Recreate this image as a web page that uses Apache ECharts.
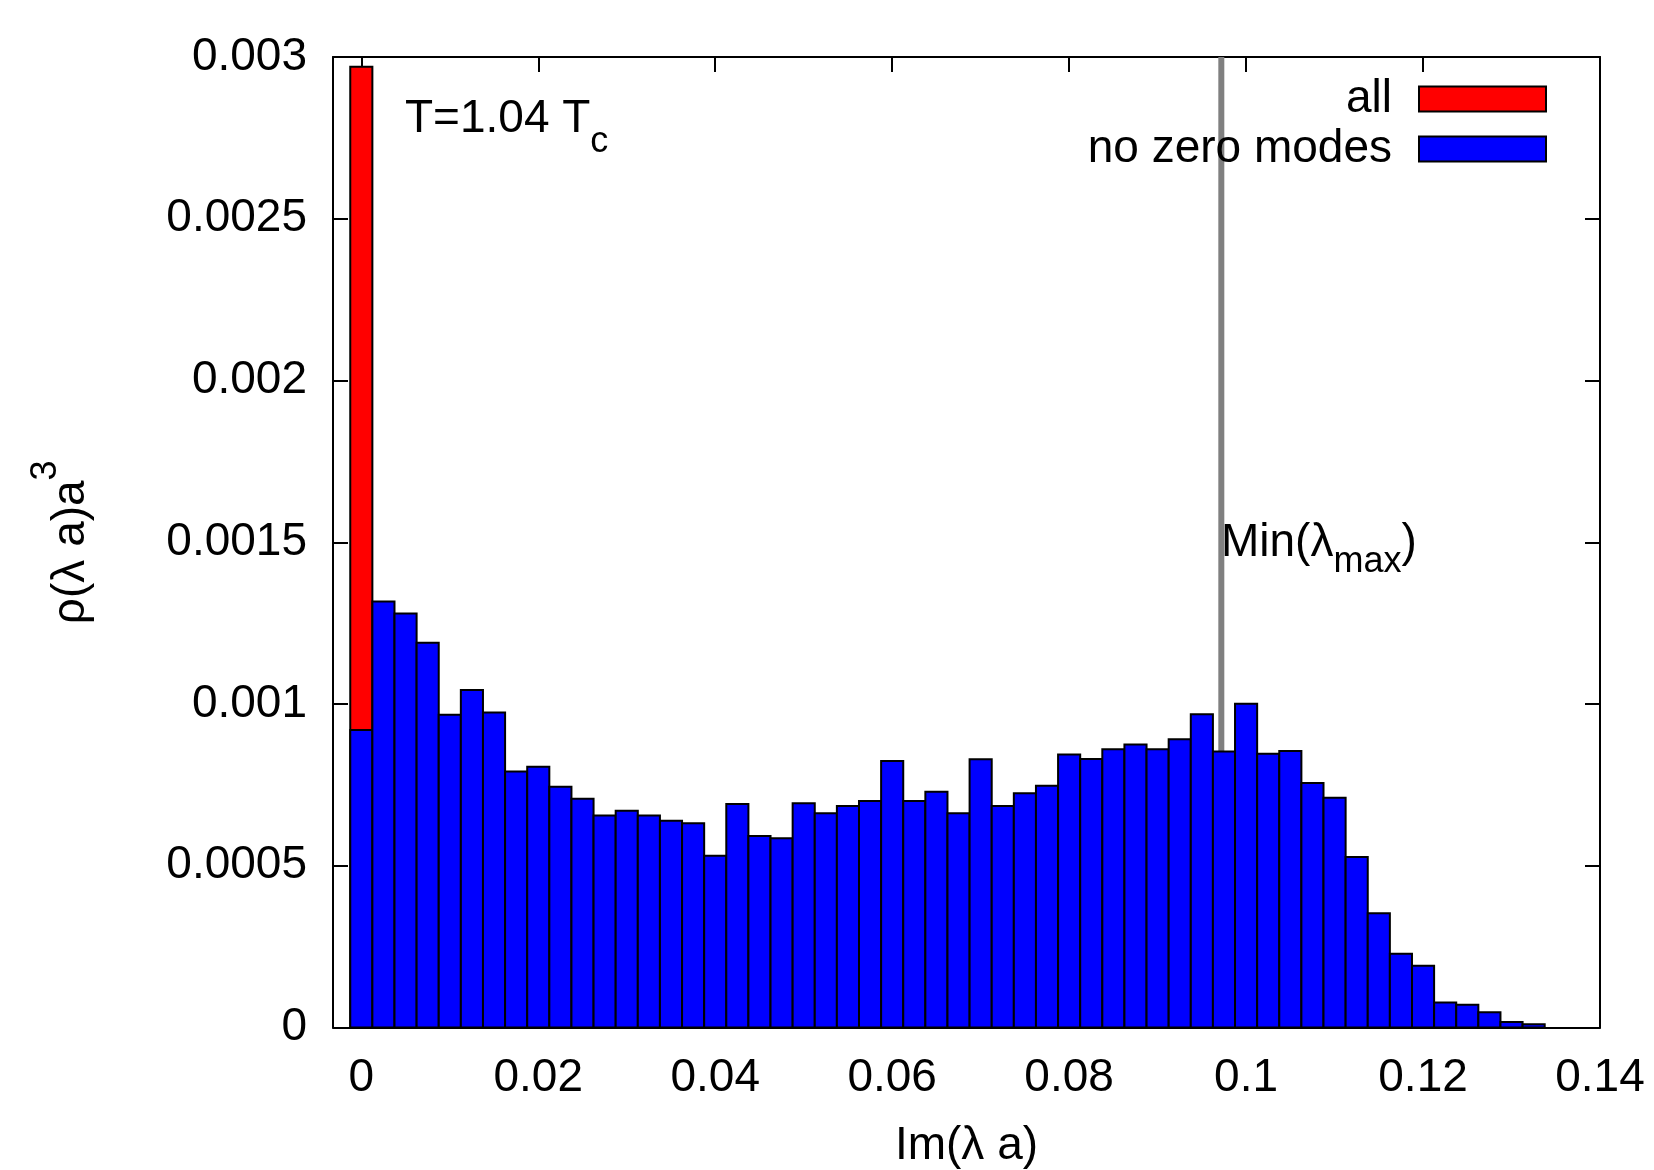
<!DOCTYPE html>
<html>
<head>
<meta charset="utf-8">
<script src="https://cdn.jsdelivr.net/npm/echarts@6/dist/echarts.min.js"></script>
<style>
  html, body { margin: 0; padding: 0; background: #fff; }
  #chart { width: 1654px; height: 1170px; }
</style>
</head>
<body>
<div id="chart"></div>
<script>
// histogram bins of Im(lambda a), width 0.0025
const binWidth = 0.0025;
const binCenters = [
  0, 0.0025, 0.005, 0.0075, 0.01, 0.0125, 0.015, 0.0175, 0.02, 0.0225,
  0.025, 0.0275, 0.03, 0.0325, 0.035, 0.0375, 0.04, 0.0425, 0.045, 0.0475,
  0.05, 0.0525, 0.055, 0.0575, 0.06, 0.0625, 0.065, 0.0675, 0.07, 0.0725,
  0.075, 0.0775, 0.08, 0.0825, 0.085, 0.0875, 0.09, 0.0925, 0.095, 0.0975,
  0.1, 0.1025, 0.105, 0.1075, 0.11, 0.1125, 0.115, 0.1175, 0.12, 0.1225,
  0.125, 0.1275, 0.13, 0.1325
];
// rho(lambda a) a^3 without zero modes
const noZeroModes = [
  0.000920, 0.001317, 0.001280, 0.001189, 0.000967, 0.001043, 0.000974, 0.000791, 0.000806, 0.000744,
  0.000707, 0.000655, 0.000670, 0.000655, 0.000639, 0.000631, 0.000531, 0.000691, 0.000592, 0.000585,
  0.000693, 0.000662, 0.000685, 0.000700, 0.000824, 0.000700, 0.000729, 0.000662, 0.000829, 0.000685,
  0.000724, 0.000747, 0.000844, 0.000830, 0.000860, 0.000875, 0.000860, 0.000891, 0.000968, 0.000853,
  0.001001, 0.000846, 0.000855, 0.000756, 0.000710, 0.000527, 0.000353, 0.000228, 0.000191, 0.000077,
  0.000070, 0.000047, 0.000017, 0.000010
];
// "all" only differs from the above in the first bin (zero modes)
const allBinCenters = [0];
const allModes = [0.00297];
const minLambdaMax = 0.0972;
const xTicks = [0, 0.02, 0.04, 0.06, 0.08, 0.1, 0.12, 0.14];
const yTicks = [0, 0.0005, 0.001, 0.0015, 0.002, 0.0025, 0.003];

const FONT = "'Liberation Sans', Arial, sans-serif";
const chart = echarts.init(document.getElementById("chart"));

function histRect(fill) {
  return function (params, api) {
    const x = api.value(0);
    const y = api.value(1);
    const p0 = api.coord([x - binWidth / 2, y]);
    const p1 = api.coord([x + binWidth / 2, 0]);
    return {
      type: "rect",
      shape: { x: p0[0], y: p0[1], width: p1[0] - p0[0], height: p1[1] - p0[1] },
      style: { fill: fill, stroke: "#000", lineWidth: 2 },
    };
  };
}

const axisLine = { show: true, onZero: false, lineStyle: { color: "#000", width: 2 } };
const tick = { show: true, inside: true, length: 15, lineStyle: { color: "#000", width: 2 } };
const label = { color: "#000", fontSize: 46, fontFamily: FONT };
const legendText = { color: "#000", fontSize: 46, fontFamily: FONT, padding: [0, 22, 0, 0] };

chart.setOption({
  animation: false,
  backgroundColor: "#fff",
  grid: { left: 333, right: 54, top: 57, bottom: 142.5, containLabel: false, outerBoundsMode: "none" },
  legend: [
    {
      data: [{ name: "all", icon: "rect", itemStyle: { color: "#ff0000", borderColor: "#000", borderWidth: 2 } }],
      right: 107, top: 76, padding: 0, align: "right",
      itemWidth: 127, itemHeight: 25, selectedMode: false,
      textStyle: legendText,
    },
    {
      data: [{ name: "no zero modes", icon: "rect", itemStyle: { color: "#0000ff", borderColor: "#000", borderWidth: 2 } }],
      right: 107, top: 126, padding: 0, align: "right",
      itemWidth: 127, itemHeight: 25, selectedMode: false,
      textStyle: legendText,
    },
  ],
  xAxis: [
    {
      type: "value", min: -0.0032, max: 0.14,
      name: "Im(λ a)", nameLocation: "middle", nameGap: 96,
      nameTextStyle: { color: "#000", fontSize: 46, fontFamily: FONT },
      axisLine: axisLine,
      axisTick: Object.assign({}, tick, { customValues: xTicks }),
      axisLabel: Object.assign({}, label, { margin: 28, customValues: xTicks }),
      splitLine: { show: false },
    },
    {
      type: "value", position: "top", min: -0.0032, max: 0.14,
      axisLine: axisLine,
      axisTick: Object.assign({}, tick, { customValues: xTicks }),
      axisLabel: { show: false },
      splitLine: { show: false },
    },
  ],
  yAxis: [
    {
      type: "value", min: 0, max: 0.003, interval: 0.0005,
      name: "{m|ρ(λ a)a}{s|3}", nameLocation: "middle", nameRotate: 90, nameGap: 259,
      nameTextStyle: {
        color: "#000", fontFamily: FONT,
        rich: {
          m: { fontSize: 46, lineHeight: 46, padding: [20, 0, 0, 0], verticalAlign: "top", fontFamily: FONT, color: "#000" },
          s: { fontSize: 36, lineHeight: 36, verticalAlign: "top", fontFamily: FONT, color: "#000" },
        },
      },
      axisLine: axisLine,
      axisTick: tick,
      axisLabel: Object.assign({}, label, { margin: 26, formatter: (v) => String(+v.toFixed(4)) }),
      splitLine: { show: false },
    },
    {
      type: "value", position: "right", min: 0, max: 0.003, interval: 0.0005,
      axisLine: axisLine,
      axisTick: tick,
      axisLabel: { show: false },
      splitLine: { show: false },
    },
  ],
  series: [
    {
      name: "Min(λmax)",
      type: "line",
      z: 1,
      silent: true,
      symbol: "none",
      data: [[minLambdaMax, yTicks[0]], [minLambdaMax, yTicks[yTicks.length - 1]]],
      lineStyle: { color: "#808080", width: 6 },
    },
    {
      name: "all",
      type: "custom",
      z: 2,
      itemStyle: { color: "#ff0000" },
      renderItem: histRect("#ff0000"),
      data: allBinCenters.map((x, i) => [x, allModes[i]]),
    },
    {
      name: "no zero modes",
      type: "custom",
      z: 3,
      itemStyle: { color: "#0000ff" },
      renderItem: histRect("#0000ff"),
      data: binCenters.map((x, i) => [x, noZeroModes[i]]),
    },
  ],
  graphic: [
    {
      type: "text", left: 405, top: 96, z: 10,
      style: {
        text: "{m|T=1.04 T}{s|c}",
        fontFamily: FONT,
        rich: {
          m: { fontSize: 46, lineHeight: 46, verticalAlign: "top", fontFamily: FONT, fill: "#000" },
          s: { fontSize: 36, lineHeight: 36, padding: [28, 0, 0, 0], verticalAlign: "top", fontFamily: FONT, fill: "#000" },
        },
      },
    },
    {
      type: "text", left: 1221, top: 520, z: 10,
      style: {
        text: "{m|Min(λ}{s|max}{m|)}",
        fontFamily: FONT,
        rich: {
          m: { fontSize: 46, lineHeight: 46, verticalAlign: "top", fontFamily: FONT, fill: "#000" },
          s: { fontSize: 36, lineHeight: 36, padding: [24, 0, 0, 0], verticalAlign: "top", fontFamily: FONT, fill: "#000" },
        },
      },
    },
  ],
});
window.addEventListener("resize", () => chart.resize());
</script>
</body>
</html>
